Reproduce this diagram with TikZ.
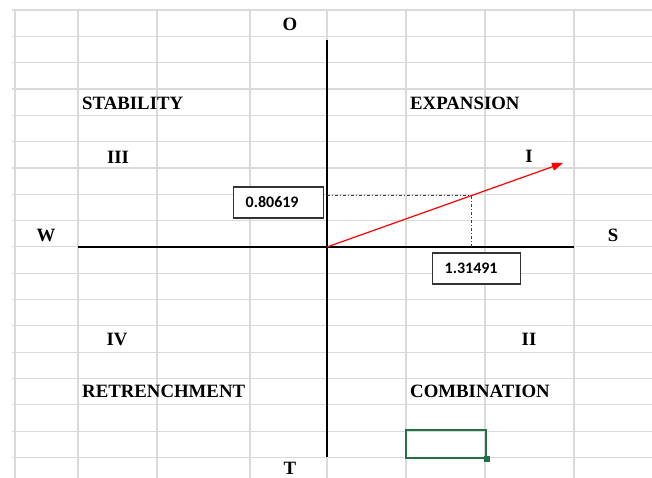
\documentclass[tikz,border=0pt]{standalone}
\usepackage{fontspec}
\setmainfont{Liberation Serif}
\newfontfamily\cellfont{Carlito}
\usetikzlibrary{arrows.meta}
\definecolor{gridgray}{HTML}{DADADA}
\definecolor{xlgreen}{HTML}{217346}

\begin{document}
\begin{tikzpicture}[x=1pt, y=-1pt,
    lbl/.style={inner sep=0pt, font=\fontsize{18.8}{20}\selectfont\bfseries},
    valbox/.style={draw=black!80, line width=1.3pt, fill=white, anchor=west, inner xsep=12pt,
        text width=66pt, minimum height=31pt, align=left, font=\cellfont\fontsize{16}{18}\selectfont\bfseries}]
    \useasboundingbox (0,0) rectangle (652,478);
    \fill[white] (0,0) rectangle (652,478);

    % sheet grid
    \foreach \gx in {15,78,157,250,327,406,485,574}
        \draw[gridgray, line width=1.2pt] (\gx,10) -- (\gx,478);
    \foreach \k in {0,...,17}
        \draw[gridgray, line width=1.2pt] (12,10+26.32*\k) -- (652,10+26.32*\k);

    % axes
    \coordinate (axN) at (327,40);
    \coordinate (axS) at (327,457);
    \coordinate (axW) at (78,247);
    \coordinate (axE) at (574,247);
    \coordinate (org) at (327,247);
    \coordinate (pt) at (471,196);
    \coordinate (tip) at (563,163);
    \draw[black, line width=1.8pt] (axN) -- (axS);
    \draw[black, line width=1.8pt] (axW) -- (axE);

    % projections
    \draw[black!75, line width=1pt, dash dot] (org |- pt) -- (pt) -- (pt |- org);
    \draw[red, line width=1.2pt, -{Triangle[length=11pt, width=8pt]}] (org) -- (tip);

    \node (valy) [valbox] at (233,202.5) {0.80619};
    \node (valx) [valbox, text width=64pt] at (432,268.5) {1.31491};

    % labels
    \node (lblO) [lbl] at (290,24) {O};
    \node (lblT) [lbl] at (290,468) {T};
    \node (lblW) [lbl] at (46,235) {W};
    \node (lblS) [lbl] at (613,235) {S};
    \node (stability) [lbl, anchor=west] at (82,103) {STABILITY};
    \node (expansion) [lbl, anchor=west] at (410,103) {EXPANSION};
    \node (retrenchment) [lbl, anchor=west] at (82,391) {RETRENCHMENT};
    \node (combination) [lbl, anchor=west] at (410,391) {COMBINATION};
    \node (q3) [lbl] at (118,157) {III};
    \node (q1) [lbl] at (529,156) {I};
    \node (q4) [lbl] at (117,339) {IV};
    \node (q2) [lbl] at (529,339) {II};

    % active cell
    \node (cell) [draw=xlgreen, line width=2pt, minimum width=80pt, minimum height=28pt, inner sep=0pt] at (445.5,443.5) {};
    \fill[xlgreen] ([xshift=-3pt, yshift=-3pt]cell.south east) rectangle ([xshift=3pt, yshift=3pt]cell.south east);
\end{tikzpicture}
\end{document}
